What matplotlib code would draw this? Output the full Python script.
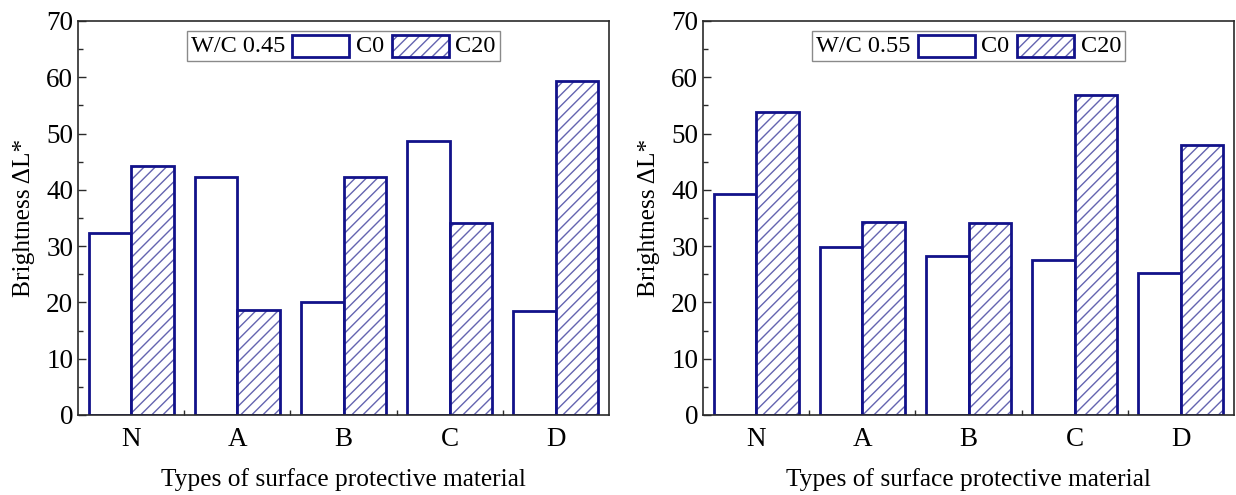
import matplotlib
matplotlib.use("Agg")
import matplotlib.pyplot as plt
from matplotlib.patches import Rectangle
from matplotlib.offsetbox import AnchoredOffsetbox, HPacker, TextArea, DrawingArea
import numpy as np

plt.rcParams['font.family'] = ['Liberation Serif', 'DejaVu Serif']
plt.rcParams['hatch.linewidth'] = 1.0

# Data
categories = ["N", "A", "B", "C", "D"]
c0_045 = [32.4, 42.2, 20.0, 48.7, 18.5]
c20_045 = [44.3, 18.6, 42.2, 34.1, 59.4]
c0_055 = [39.2, 29.8, 28.2, 27.6, 25.3]
c20_055 = [53.8, 34.3, 34.2, 56.8, 48.0]
panel_titles = ["W/C 0.45", "W/C 0.55"]
series_labels = ["C0", "C20"]
y_label = "Brightness \u0394L*"
x_label = "Types of surface protective material"

EDGE = "#12128a"
HATCH = "#6464b0"
SPINE = "#2a2a2a"
FS_TICK = 19.5
FS_LABEL = 18.3
FS_LEG = 17.5
W = 0.4

fig = plt.figure(figsize=(12.36, 4.95), dpi=100)
ax_l = fig.add_axes([78 / 1236, 80 / 495, 531 / 1236, 394 / 495])
ax_r = fig.add_axes([703 / 1236, 80 / 495, 531 / 1236, 394 / 495])


def legend_box(ax, title):
    fpt = 72.0 / 100.0  # points per pixel at this dpi
    items = [TextArea(title, textprops=dict(fontsize=FS_LEG))]
    for lab, hatched in zip(series_labels, [False, True]):
        pw, ph = 57 * fpt, 22 * fpt
        da = DrawingArea(pw, ph, 0, 0)
        if hatched:
            da.add_artist(Rectangle((0, 0), pw, ph, facecolor="white",
                                    edgecolor=HATCH, hatch="///", linewidth=0))
        da.add_artist(Rectangle((0, 0), pw, ph, fill=False,
                                edgecolor=EDGE, linewidth=2.0))
        items.append(da)
        items.append(TextArea(lab, textprops=dict(fontsize=FS_LEG)))
    pack = HPacker(children=items, align="center", pad=0, sep=5)
    box = AnchoredOffsetbox(loc="upper center", child=pack, pad=0.3,
                            frameon=True, bbox_to_anchor=(0.5, 0.975),
                            bbox_transform=ax.transAxes, borderpad=0)
    box.patch.set_boxstyle("square", pad=0)
    box.patch.set_edgecolor("#8a8a8a")
    box.patch.set_linewidth(1.0)
    ax.add_artist(box)


def draw_panel(ax, c0, c20, title):
    x = np.arange(len(categories))
    ax.bar(x - W / 2, c0, W, facecolor="white", edgecolor=EDGE, linewidth=2.0, zorder=2)
    ax.bar(x + W / 2, c20, W, facecolor="white", edgecolor=HATCH, hatch="///",
           linewidth=0, zorder=2)
    ax.bar(x + W / 2, c20, W, fill=False, edgecolor=EDGE, linewidth=2.0, zorder=3)

    ax.set_xlim(-0.5, len(categories) - 0.5)
    ax.set_ylim(0, 70)
    ax.set_yticks(np.arange(0, 71, 10))
    ax.set_yticks(np.arange(5, 70, 10), minor=True)
    ax.set_xticks(x)
    ax.set_xticklabels(categories)
    ax.set_xticks(x[:-1] + 0.5, minor=True)

    ax.tick_params(axis="y", which="major", direction="in", length=6, width=1.0,
                   color=SPINE, labelsize=FS_TICK, pad=3.5)
    ax.tick_params(axis="y", which="minor", direction="in", length=3.5, width=1.0,
                   color=SPINE)
    ax.tick_params(axis="x", which="major", length=0, labelsize=FS_TICK, pad=9)
    ax.tick_params(axis="x", which="minor", direction="in", length=3.5, width=1.0,
                   color=SPINE)
    for s in ax.spines.values():
        s.set_color(SPINE)
        s.set_linewidth(1.2)
        s.set_zorder(4)

    ax.set_ylabel(y_label, fontsize=FS_LABEL, labelpad=8)
    ax.set_xlabel(x_label, fontsize=FS_LABEL, labelpad=11)
    legend_box(ax, title)


draw_panel(ax_l, c0_045, c20_045, panel_titles[0])
draw_panel(ax_r, c0_055, c20_055, panel_titles[1])

fig.savefig("out.png", dpi=100, facecolor="white")
